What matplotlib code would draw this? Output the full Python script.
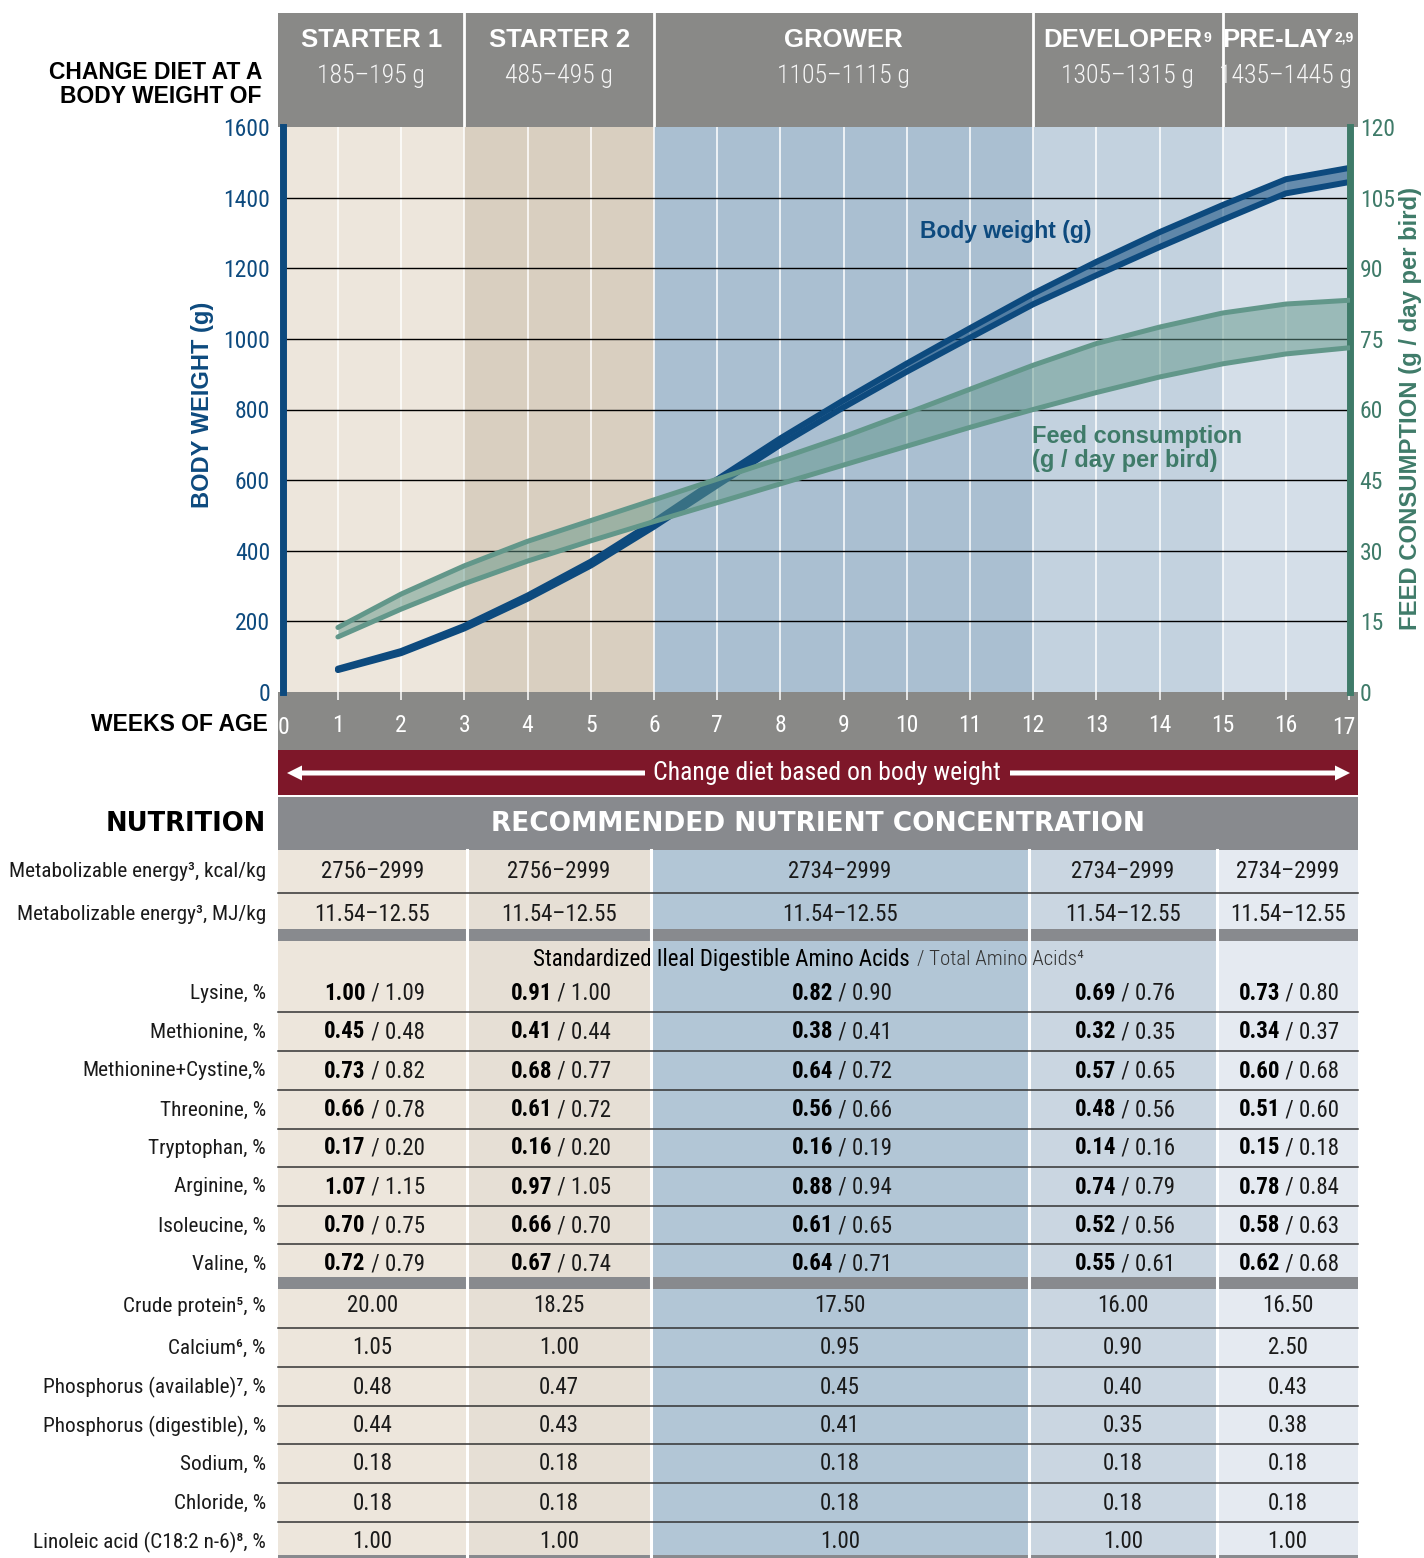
import matplotlib.pyplot as plt
from matplotlib.patches import Rectangle, FancyArrow

COND = ['Roboto Condensed', 'DejaVu Sans']
BOLD = ['Liberation Sans', 'DejaVu Sans']
WIDE = ['DejaVu Sans']
plt.rcParams['font.family'] = COND

# ---- chart data ----
weeks = list(range(1, 18))
bw_low = [62, 110, 180, 264, 358, 468, 585, 700, 806, 907, 1003, 1098, 1180, 1260, 1337, 1412, 1444]
bw_high = [66, 116, 187, 273, 369, 482, 602, 718, 826, 930, 1030, 1128, 1218, 1302, 1379, 1452, 1484]
feed_low = [11.7, 17.6, 23.0, 27.8, 32.1, 36.2, 40.2, 44.2, 48.2, 52.2, 56.2, 60.0, 63.6, 66.9, 69.7, 71.8, 73.1]
feed_high = [13.7, 20.8, 26.8, 32.0, 36.4, 40.8, 45.2, 49.6, 54.2, 59.2, 64.3, 69.4, 74.0, 77.5, 80.5, 82.4, 83.2]

week_ticks = list(range(0, 18))
bw_ticks = [0, 200, 400, 600, 800, 1000, 1200, 1400, 1600]
feed_ticks = [0, 15, 30, 45, 60, 75, 90, 105, 120]

phase_names = ['STARTER 1', 'STARTER 2', 'GROWER', 'DEVELOPER', 'PRE-LAY']
phase_notes = ['', '', '', '9', '2,9']
phase_start = [0, 3, 6, 12, 15]
phase_end = [3, 6, 12, 15, 17]
change_weight = ['185–195 g', '485–495 g', '1105–1115 g', '1305–1315 g', '1435–1445 g']

# ---- table data ----
energy_kcal = ['2756–2999', '2756–2999', '2734–2999', '2734–2999', '2734–2999']
energy_mj = ['11.54–12.55', '11.54–12.55', '11.54–12.55', '11.54–12.55', '11.54–12.55']
amino_names = ['Lysine, %', 'Methionine, %', 'Methionine+Cystine,%', 'Threonine, %',
               'Tryptophan, %', 'Arginine, %', 'Isoleucine, %', 'Valine, %']
amino_sid = [
    ['1.00', '0.91', '0.82', '0.69', '0.73'],
    ['0.45', '0.41', '0.38', '0.32', '0.34'],
    ['0.73', '0.68', '0.64', '0.57', '0.60'],
    ['0.66', '0.61', '0.56', '0.48', '0.51'],
    ['0.17', '0.16', '0.16', '0.14', '0.15'],
    ['1.07', '0.97', '0.88', '0.74', '0.78'],
    ['0.70', '0.66', '0.61', '0.52', '0.58'],
    ['0.72', '0.67', '0.64', '0.55', '0.62'],
]
amino_total = [
    ['1.09', '1.00', '0.90', '0.76', '0.80'],
    ['0.48', '0.44', '0.41', '0.35', '0.37'],
    ['0.82', '0.77', '0.72', '0.65', '0.68'],
    ['0.78', '0.72', '0.66', '0.56', '0.60'],
    ['0.20', '0.20', '0.19', '0.16', '0.18'],
    ['1.15', '1.05', '0.94', '0.79', '0.84'],
    ['0.75', '0.70', '0.65', '0.56', '0.63'],
    ['0.79', '0.74', '0.71', '0.61', '0.68'],
]
other_names = ['Crude protein⁵, %', 'Calcium⁶, %', 'Phosphorus (available)⁷, %',
               'Phosphorus (digestible), %', 'Sodium, %', 'Chloride, %',
               'Linoleic acid (C18:2 n-6)⁸, %']
other_values = [
    ['20.00', '18.25', '17.50', '16.00', '16.50'],
    ['1.05', '1.00', '0.95', '0.90', '2.50'],
    ['0.48', '0.47', '0.45', '0.40', '0.43'],
    ['0.44', '0.43', '0.41', '0.35', '0.38'],
    ['0.18', '0.18', '0.18', '0.18', '0.18'],
    ['0.18', '0.18', '0.18', '0.18', '0.18'],
    ['1.00', '1.00', '1.00', '1.00', '1.00'],
]

# ---- colours / layout ----
BLUE = '#0d4a7e'
GREEN_AX = '#3f7b69'
GREEN = '#62978a'
GRAY = '#898987'
GRAY2 = '#888a8e'
RED = '#7e1729'
TXT = '#1a1a1a'
phase_bg = ['#ede6dc', '#d9cfc0', '#aabfd1', '#c3d2df', '#d4dee8']
col_bg = ['#ede6dc', '#e6dfd5', '#b2c6d6', '#cad6e1', '#e5eaf1']
cols_px = [278, 467, 651, 1029, 1217, 1358]

W, H = 1424, 1558
W0, PXW = 274.7, 63.2   # pixel of week 0, pixels per week

fig = plt.figure(figsize=(W / 100, H / 100), dpi=100)
bg = fig.add_axes([0, 0, 1, 1])
bg.set_xlim(0, W)
bg.set_ylim(H, 0)
bg.axis('off')


def px_axes(x0, y0, x1, y1):
    return fig.add_axes([x0 / W, 1 - y1 / H, (x1 - x0) / W, (y1 - y0) / H])


# ---- header band ----
hx = px_axes(278, 13, 1358, 127)
hx.set_xlim((278 - W0) / PXW, (1358 - W0) / PXW)
hx.set_ylim(0, 1)
hx.axis('off')
hx.axvspan(*hx.get_xlim(), color=GRAY, lw=0)
for s in phase_start[1:]:
    hx.axvline(s, color='white', lw=2)
hlo, hhi = hx.get_xlim()
name_shift = [0, 0, 0, -5, -8]
for name, note, s, e, wt, sh in zip(phase_names, phase_notes, phase_start, phase_end,
                                    change_weight, name_shift):
    mid = (max(s, hlo) + min(e, hhi)) / 2
    t = hx.annotate(name, xy=(mid, 0.765), xytext=(sh, 0), textcoords='offset pixels',
                    ha='center', va='center', color='white', fontsize=18.5,
                    fontweight='bold', family=BOLD)
    if note:
        hx.annotate(note, xy=(1, 1), xycoords=t, xytext=(1, -3), textcoords='offset pixels',
                    ha='left', va='top', color='white', fontsize=10,
                    fontweight='bold', family=BOLD)
    hx.text(mid, 0.45, wt, ha='center', va='center', color='#f6f6f6', fontsize=18.5,
            fontweight='light')

bg.text(262, 72, 'CHANGE DIET AT A', ha='right', va='center', fontsize=16.5,
        fontweight='bold', family=BOLD, color='black')
bg.text(262, 96, 'BODY WEIGHT OF', ha='right', va='center', fontsize=16.5,
        fontweight='bold', family=BOLD, color='black')

# ---- bands under the chart ----
bg.add_patch(Rectangle((278, 692), 1080, 58, color=GRAY, lw=0))
bg.add_patch(Rectangle((278, 750), 1080, 45, color=RED, lw=0))
bg.add_patch(FancyArrow(645, 773, -358, 0, width=5, head_width=15, head_length=15,
                        length_includes_head=True, color='white', lw=0))
bg.add_patch(FancyArrow(1010, 773, 340, 0, width=5, head_width=15, head_length=15,
                        length_includes_head=True, color='white', lw=0))
bg.text(827, 773, 'Change diet based on body weight', ha='center', va='center',
        color='white', fontsize=18.5)
bg.text(268, 724, 'WEEKS OF AGE', ha='right', va='center', fontsize=16.5,
        fontweight='bold', family=BOLD, color='black')

# ---- main chart ----
ax = px_axes(282.5, 127, 1350, 692)
ax.set_xticks(week_ticks)
ax.set_xticklabels([''] + [str(w) for w in week_ticks[1:-1]] + [''])
ax.set_xticks(phase_start[1:], minor=True)
ax.set_yticks(bw_ticks)
ax.set_xlim((282.5 - W0) / PXW, (1350 - W0) / PXW)
ax.set_ylim(0, 1600)
for s, e, c in zip(phase_start, phase_end, phase_bg):
    ax.axvspan(s, e, color=c, lw=0, zorder=0)
ax.set_axisbelow(True)
ax.grid(axis='x', color='white', lw=1.1)
ax.hlines(bw_ticks[1:-1], *ax.get_xlim(), color='black', lw=1.0, zorder=0.6)
ax.tick_params(axis='x', which='major', length=5.8, width=1.1, color='white',
               labelcolor='white', labelsize=17, pad=10)
ax.tick_params(axis='x', which='minor', length=11.5, width=1.1, color='white')
ax.tick_params(axis='y', length=0, pad=9, labelcolor=BLUE, labelsize=17)
for sp in ['top', 'bottom', 'right']:
    ax.spines[sp].set_visible(False)
ax.spines['left'].set_linewidth(5)
ax.spines['left'].set_color(BLUE)
# first and last week sit under the axis bars; their labels are nudged inward
for wk, dx in [(week_ticks[0], 9), (week_ticks[-1], -5)]:
    ax.annotate(str(wk), xy=(wk, 0), xycoords=('data', 'axes fraction'),
                xytext=(dx, -36), textcoords='offset pixels', ha='center', va='center',
                color='white', fontsize=17, annotation_clip=False)

ax.fill_between(weeks, bw_low, bw_high, color=BLUE, alpha=0.55, lw=0, zorder=2)
ax.plot(weeks, bw_low, color=BLUE, lw=4.3, solid_capstyle='round',
        solid_joinstyle='round', zorder=3)
ax.plot(weeks, bw_high, color=BLUE, lw=4.3, solid_capstyle='round',
        solid_joinstyle='round', zorder=3)

ax2 = ax.twinx()
ax2.set_yticks(feed_ticks)
ax2.set_ylim(0, 120)
ax2.tick_params(axis='y', length=0, pad=7, labelcolor=GREEN_AX, labelsize=17)
for sp in ['top', 'bottom', 'left']:
    ax2.spines[sp].set_visible(False)
ax2.spines['right'].set_linewidth(5)
ax2.spines['right'].set_color(GREEN_AX)
ax2.fill_between(weeks, feed_low, feed_high, color=GREEN, alpha=0.5, lw=0, zorder=2)
ax2.plot(weeks, feed_low, color=GREEN, lw=3.6, solid_capstyle='round',
         solid_joinstyle='round', zorder=3)
ax2.plot(weeks, feed_high, color=GREEN, lw=3.6, solid_capstyle='round',
         solid_joinstyle='round', zorder=3)

bg.text(203, 405, 'BODY WEIGHT (g)', rotation=90, ha='center', va='center',
        fontsize=17, fontweight='bold', family=BOLD, color=BLUE)
bg.text(1410, 408, 'FEED CONSUMPTION (g / day per bird)', rotation=90, ha='center',
        va='center', fontsize=17.2, fontweight='bold', family=BOLD, color=GREEN_AX)
ax.text(0.597, 0.815, 'Body weight (g)', transform=ax.transAxes, ha='left', va='center',
        fontsize=16.5, fontweight='bold', family=BOLD, color=BLUE, zorder=5)
ax.text(0.702, 0.452, 'Feed consumption', transform=ax.transAxes, ha='left',
        va='center', fontsize=17, fontweight='bold', family=BOLD, color=GREEN_AX, zorder=5)
ax.text(0.702, 0.410, '(g / day per bird)', transform=ax.transAxes, ha='left',
        va='center', fontsize=17, fontweight='bold', family=BOLD, color=GREEN_AX, zorder=5)

# ---- nutrition table ----
bg.add_patch(Rectangle((278, 797), 1080, 53, color=GRAY2, lw=0))
bg.text(818, 824, 'RECOMMENDED NUTRIENT CONCENTRATION', ha='center', va='center',
        color='white', fontsize=19, fontweight='bold', family=WIDE)
bg.text(266, 824, 'NUTRITION', ha='right', va='center', fontsize=18.5,
        fontweight='bold', family=WIDE, color='black')

for x0, x1, c in zip(cols_px[:-1], cols_px[1:], col_bg):
    bg.add_patch(Rectangle((x0, 850), x1 - x0, H - 850, color=c, lw=0))
for x in cols_px[1:-1]:
    bg.plot([x, x], [850, H], color='white', lw=2.2)

row_lines = [893, 1012, 1051, 1090, 1129, 1167, 1206, 1244, 1328, 1367, 1406, 1444, 1483, 1522]
for y in row_lines:
    bg.plot([278, 1358], [y, y], color='#333333', lw=1.1)
for y0, y1 in [(929, 941), (1277, 1289), (1555, 1558)]:
    bg.add_patch(Rectangle((278, y0), 1080, y1 - y0, color=GRAY2, lw=0))

centers = [(a + b) / 2 for a, b in zip(cols_px[:-1], cols_px[1:])]
LBL = 15.3
VAL = 16.5


def row(label, y, values):
    bg.text(266, y, label, ha='right', va='center', fontsize=LBL, color=TXT)
    for cx, v in zip(centers, values):
        bg.text(cx, y, v, ha='center', va='center', fontsize=VAL, color=TXT)


row('Metabolizable energy³, kcal/kg', 871, energy_kcal)
row('Metabolizable energy³, MJ/kg', 914, energy_mj)

bg.text(910, 959, 'Standardized Ileal Digestible Amino Acids', ha='right', va='center',
        fontsize=16.5, color='black')
bg.text(917, 959, '/ Total Amino Acids⁴', ha='left', va='center', fontsize=15,
        color='#333333', fontweight='light')

amino_y = [993, 1032, 1071, 1110, 1148, 1187, 1226, 1264]
for name, y, sid, tot in zip(amino_names, amino_y, amino_sid, amino_total):
    bg.text(266, y, name, ha='right', va='center', fontsize=LBL, color=TXT)
    for cx, a, b in zip(centers, sid, tot):
        bg.text(cx - 7, y, a, ha='right', va='center', fontsize=VAL,
                fontweight='bold', color='black')
        bg.text(cx - 7, y, ' / ' + b, ha='left', va='center', fontsize=VAL, color=TXT)

other_y = [1306, 1348, 1387, 1426, 1464, 1503, 1542]
for name, y, vals in zip(other_names, other_y, other_values):
    row(name, y, vals)

fig.savefig('out.png', dpi=100)
